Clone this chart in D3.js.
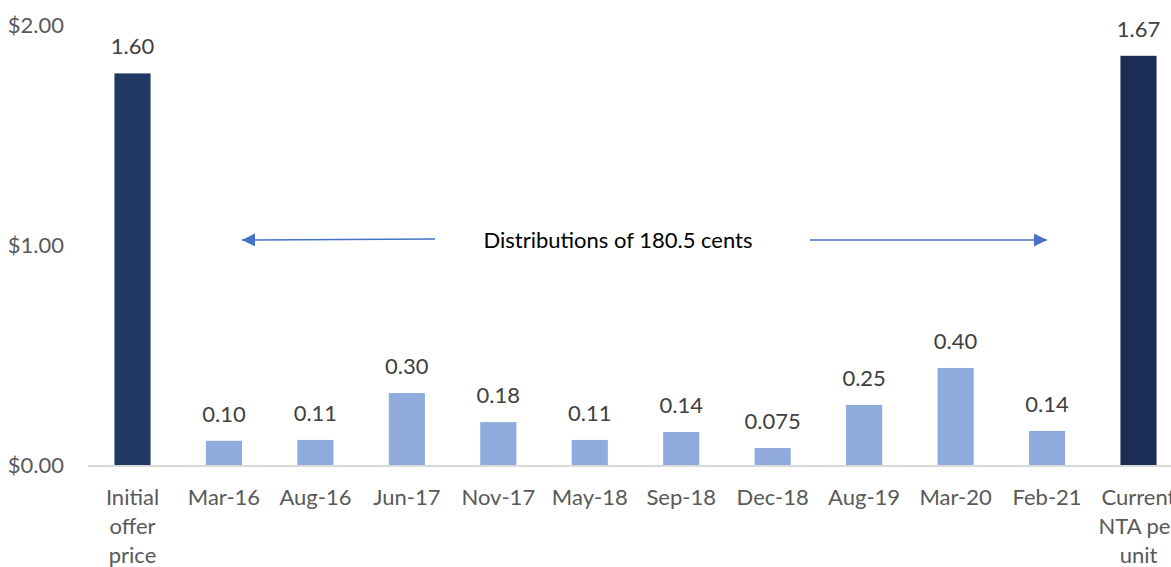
<!DOCTYPE html>
<html>
<head>
<meta charset="utf-8">
<script src="https://cdn.jsdelivr.net/npm/d3@7"></script>
<style>
  body { margin: 0; background: #fff; }
  text { font-family: Lato, "Open Sans", sans-serif; }
</style>
</head>
<body>
<script>
// categories along the x axis (multi-line labels split on "|")
const categories = ["Initial|offer|price", "Mar-16", "Aug-16", "Jun-17", "Nov-17", "May-18",
  "Sep-18", "Dec-18", "Aug-19", "Mar-20", "Feb-21", "Current|NTA per|unit"];
const values = [1.78, 0.11, 0.114, 0.327, 0.195, 0.114, 0.15, 0.077, 0.273, 0.441, 0.155, 1.86];
// printed data labels
const labels = ["1.60", "0.10", "0.11", "0.30", "0.18", "0.11", "0.14", "0.075", "0.25", "0.40", "0.14", "1.67"];
const kinds = ["price", "dist", "dist", "dist", "dist", "dist", "dist", "dist", "dist", "dist", "dist", "price"];
const yTicks = [0, 1, 2];
const note = "Distributions of 180.5 cents";

const width = 1171, height = 567;
const fontSize = "22px";

const svg = d3.select("body").append("svg")
    .attr("width", width)
    .attr("height", height);

const x = d3.scaleBand()
    .domain(categories)
    .range([87, 1184])
    .paddingInner(0.605)
    .paddingOuter(0.3);

const y = d3.scaleLinear()
    .domain([0, 2])
    .range([465, 25]);

const color = d3.scaleOrdinal()
    .domain(["price", "dist"])
    .range(["#203864", "#8FAADC"]);

// y tick labels
svg.append("g")
  .selectAll("text")
  .data(yTicks)
  .join("text")
    .attr("x", 64)
    .attr("y", d => y(d))
    .attr("dy", "0.35em")
    .attr("text-anchor", "end")
    .attr("fill", "#595959")
    .style("font-size", fontSize)
    .text(d => d3.format("$.2f")(d));

// bars
svg.append("g")
  .selectAll("rect")
  .data(values)
  .join("rect")
    .attr("x", (d, i) => x(categories[i]))
    .attr("y", d => y(d))
    .attr("width", x.bandwidth())
    .attr("height", d => y(0) - y(d))
    .attr("fill", (d, i) => i === 11 ? "#1B2C55" : color(kinds[i]));

// baseline
svg.append("line")
    .attr("x1", 88).attr("x2", width)
    .attr("y1", y(0) + 1).attr("y2", y(0) + 1)
    .attr("stroke", "#D9D9D9")
    .attr("stroke-width", 2);

// data labels
svg.append("g")
  .selectAll("text")
  .data(values)
  .join("text")
    .attr("x", (d, i) => x(categories[i]) + x.bandwidth() / 2)
    .attr("y", d => y(d) - 19)
    .attr("text-anchor", "middle")
    .attr("fill", "#404040")
    .style("font-size", fontSize)
    .text((d, i) => labels[i]);

// category labels
const cat = svg.append("g")
  .selectAll("text")
  .data(categories)
  .join("text")
    .attr("x", d => x(d) + x.bandwidth() / 2)
    .attr("y", 505)
    .attr("text-anchor", "middle")
    .attr("fill", "#595959")
    .style("font-size", fontSize);

cat.selectAll("tspan")
  .data(d => d.split("|"))
  .join("tspan")
    .attr("x", function() { return this.parentNode.getAttribute("x"); })
    .attr("dy", (d, i) => i === 0 ? 0 : 29)
    .text(d => d);

// annotation arrows
const defs = svg.append("defs");
defs.append("marker")
    .attr("id", "head")
    .attr("viewBox", "0 0 10 10")
    .attr("refX", 10).attr("refY", 5)
    .attr("markerWidth", 15).attr("markerHeight", 13)
    .attr("markerUnits", "userSpaceOnUse")
    .attr("orient", "auto")
  .append("path")
    .attr("d", "M0,0L10,5L0,10Z")
    .attr("fill", "#4472C4");

const arrowY = 240;
svg.append("line")
    .attr("x1", 435).attr("y1", arrowY - 1)
    .attr("x2", 242).attr("y2", arrowY)
    .attr("stroke", "#4472C4")
    .attr("stroke-width", 1.5)
    .attr("marker-end", "url(#head)");

svg.append("line")
    .attr("x1", 810).attr("y1", arrowY)
    .attr("x2", 1047).attr("y2", arrowY)
    .attr("stroke", "#4472C4")
    .attr("stroke-width", 1.5)
    .attr("marker-end", "url(#head)");

svg.append("text")
    .attr("x", 618)
    .attr("y", arrowY)
    .attr("dy", "0.35em")
    .attr("text-anchor", "middle")
    .attr("fill", "#000")
    .style("font-size", fontSize)
    .text(note);
</script>
</body>
</html>
